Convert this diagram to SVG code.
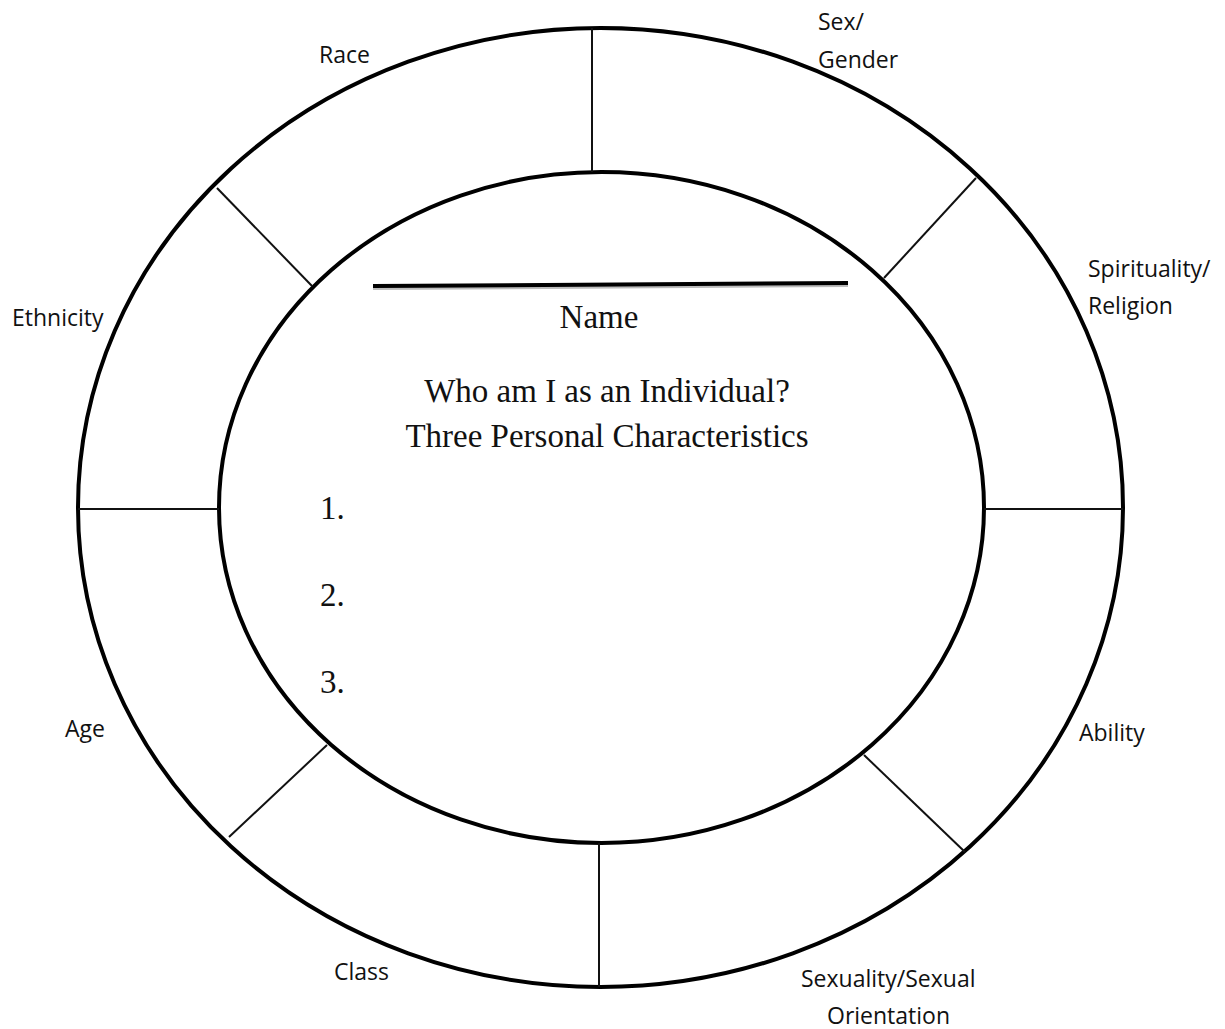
<svg xmlns="http://www.w3.org/2000/svg" width="1225" height="1029" viewBox="0 0 1225 1029">
<style>
.ring{fill:none;stroke:#000;stroke-width:4}
.div{stroke:#111;stroke-width:2;fill:none}
.lbl{font-family:"Open Sans","Liberation Sans",Arial,sans-serif;font-size:23px;fill:#111}
.ser{font-family:"Liberation Serif","Times New Roman",serif;font-size:33px;fill:#111}
</style>
<rect width="1225" height="1029" fill="#fff"/>
<g id="outer-ring">
<ellipse class="ring" cx="600.5" cy="507.5" rx="522.5" ry="479.5"/>
</g>
<g id="inner-circle">
<ellipse class="ring" cx="601.5" cy="507.5" rx="382.5" ry="335.5"/>
</g>
<g id="dividers">
<line class="div" x1="592" y1="28" x2="592" y2="172"/>
<line class="div" x1="976" y1="178" x2="884" y2="278"/>
<line class="div" x1="984" y1="509" x2="1123" y2="509"/>
<line class="div" x1="864" y1="755" x2="965" y2="852"/>
<line class="div" x1="599" y1="843" x2="599" y2="987"/>
<line class="div" x1="327" y1="745" x2="229" y2="837"/>
<line class="div" x1="78" y1="509" x2="219" y2="509"/>
<line class="div" x1="217" y1="188" x2="312" y2="286"/>
</g>
<g id="labels">
<g id="race"><text class="lbl" x="319" y="63">Race</text></g>
<g id="sex-gender"><text class="lbl" x="818" y="30">Sex/</text><text class="lbl" x="818" y="68">Gender</text></g>
<g id="spirituality"><text class="lbl" x="1088" y="277">Spirituality/</text><text class="lbl" x="1088" y="314">Religion</text></g>
<g id="ability"><text class="lbl" x="1079" y="741">Ability</text></g>
<g id="sexuality"><text class="lbl" x="801" y="987">Sexuality/Sexual</text><text class="lbl" x="827" y="1024">Orientation</text></g>
<g id="class"><text class="lbl" x="334" y="980">Class</text></g>
<g id="age"><text class="lbl" x="65" y="737">Age</text></g>
<g id="ethnicity"><text class="lbl" x="12" y="326">Ethnicity</text></g>
</g>
<g id="center">
<line x1="373" y1="288" x2="848" y2="285" stroke="#bbb" stroke-width="4"/>
<line x1="373" y1="286" x2="848" y2="283" stroke="#000" stroke-width="4"/>
<text class="ser" x="599" y="328" text-anchor="middle">Name</text>
<text class="ser" x="607" y="402" text-anchor="middle">Who am I as an Individual?</text>
<text class="ser" x="607" y="447" text-anchor="middle">Three Personal Characteristics</text>
<text class="ser" x="320" y="519">1.</text>
<text class="ser" x="320" y="606">2.</text>
<text class="ser" x="320" y="693">3.</text>
</g>
</svg>
